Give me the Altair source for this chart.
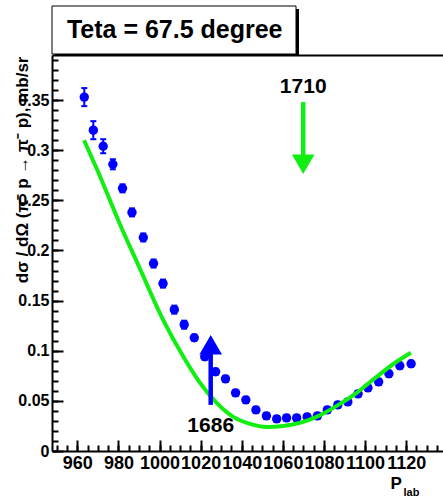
import altair as alt
import pandas as pd

# ---------------- data ----------------
p_lab = [963.4, 967.8, 972.6, 977.3, 982.0, 986.6, 992.1, 997.1, 1001.7, 1007.2,
         1012.0, 1016.9, 1022.0, 1027.3, 1032.1, 1037.0, 1042.0, 1046.9, 1052.0, 1057.0,
         1061.8, 1066.7, 1071.8, 1076.8, 1081.6, 1086.7, 1091.6, 1096.6, 1101.4, 1106.6,
         1111.6, 1116.9, 1122.4]
dsig = [0.353, 0.320, 0.304, 0.286, 0.262, 0.238, 0.213, 0.187, 0.167, 0.141,
        0.126, 0.113, 0.094, 0.079, 0.072, 0.058, 0.051, 0.041, 0.035, 0.032,
        0.033, 0.033, 0.034, 0.035, 0.041, 0.046, 0.049, 0.057, 0.063, 0.069,
        0.077, 0.085, 0.087]
dsig_err = [0.009, 0.009, 0.007, 0.005, 0.004, 0.004, 0.004, 0.004, 0.004, 0.004,
            0.004, 0.003, 0.003, 0.003, 0.003, 0.003, 0.003, 0.003, 0.003, 0.003,
            0.003, 0.003, 0.003, 0.003, 0.003, 0.003, 0.003, 0.003, 0.003, 0.003,
            0.003, 0.003, 0.003]

fit_p = [963.3, 970.0, 980.8, 990.0, 1001.7, 1011.6, 1019.7, 1027.8, 1035.9, 1044.0,
         1052.1, 1060.2, 1068.3, 1076.4, 1086.2, 1095.9, 1105.6, 1115.3, 1122.3]
fit_ds = [0.310, 0.279, 0.226, 0.184, 0.131, 0.094, 0.068, 0.048, 0.034, 0.027,
          0.024, 0.025, 0.028, 0.034, 0.045, 0.058, 0.074, 0.089, 0.098]

arrow_label = ["1710", "1686"]
arrow_p = [1069.9, 1024.9]
arrow_from = [0.348, 0.046]
arrow_to = [0.290, 0.103]
arrow_head = [0.286, 0.106]
arrow_text_y = [0.357, 0.019]

x_major = [960, 980, 1000, 1020, 1040, 1060, 1080, 1100, 1120]
x_minor = list(range(950, 1140, 5))
y_major = [0, 0.05, 0.1, 0.15, 0.2, 0.25, 0.3, 0.35]
y_minor = [round(i * 0.01, 2) for i in range(0, 40)]

title_text = "Teta = 67.5 degree"
y_title = "dσ / dΩ (π⁻ p → π⁻ p), mb/sr"
x_title = "P"
x_title_sub = "lab"

# ---------------- frames ----------------
pts = pd.DataFrame({"p": p_lab, "ds": dsig,
                    "lo": [a - b for a, b in zip(dsig, dsig_err)],
                    "hi": [a + b for a, b in zip(dsig, dsig_err)]})
fit = pd.DataFrame({"p": fit_p, "ds": fit_ds})
arr = pd.DataFrame({"label": arrow_label, "p": arrow_p, "y0": arrow_from,
                    "y1": arrow_to, "yh": arrow_head, "yt": arrow_text_y})
ttl = pd.DataFrame({"t": [title_text]})

FONT = "Liberation Sans"
W, H = 391, 396
xs = alt.Scale(domain=[947.7, 1137.9], nice=False, zero=False)
ys = alt.Scale(domain=[0, 0.395], nice=False, zero=False)
acol = alt.Scale(domain=arrow_label, range=["#11ee11", "#0000ff"])
ashape = alt.Scale(domain=arrow_label, range=["triangle-down", "triangle-up"])

ax_x_labels = alt.Axis(orient="bottom", values=x_major, format="d", ticks=False, tickSize=0,
                       domain=True, domainColor="black", domainWidth=2, grid=False,
                       labelFont=FONT, labelFontSize=18, labelFontWeight="bold", labelColor="black",
                       labelPadding=3, labelOverlap=False, labelFlush=False, labelBound=False,
                       title=x_title, titleX=338, titleY=37, titleAlign="left",
                       titleBaseline="alphabetic", titleFont=FONT, titleFontSize=17,
                       titleFontWeight="bold", titleColor="black")
ax_y_labels = alt.Axis(orient="left", values=y_major, format="~g", ticks=False, tickSize=0,
                       domain=True, domainColor="black", domainWidth=2, grid=False,
                       labelFont=FONT, labelFontSize=16, labelFontWeight="bold", labelColor="black",
                       labelPadding=3, labelOverlap=False, labelFlush=False, labelBound=False,
                       title=y_title, titleAngle=270, titleX=-25, titleY=1, titleAlign="right",
                       titleBaseline="alphabetic", titleFont=FONT, titleFontSize=17,
                       titleFontWeight="bold", titleColor="black")
ax_x_major = alt.Axis(orient="top", offset=-H, values=x_major, labels=False, ticks=True,
                      tickSize=11, tickWidth=2, tickColor="black", domain=False, grid=False,
                      title=x_title_sub, titleX=351, titleY=44, titleAlign="left",
                      titleBaseline="alphabetic", titleFont=FONT, titleFontSize=11,
                      titleFontWeight="bold", titleColor="black")
ax_y_major = alt.Axis(orient="right", offset=-W, values=y_major, labels=False, ticks=True,
                      tickSize=11, tickWidth=2, tickColor="black", domain=False, grid=False,
                      title="")
ax_x_minor = alt.Axis(orient="top", offset=-H, values=x_minor, labels=False, ticks=True,
                      tickSize=6, tickWidth=2, tickColor="black", domain=False, grid=False,
                      title="")
ax_y_minor = alt.Axis(orient="right", offset=-W, values=y_minor, labels=False, ticks=True,
                      tickSize=6, tickWidth=2, tickColor="black", domain=False, grid=False,
                      title="")
ax_x_top = alt.Axis(orient="top", values=x_major, labels=False, ticks=False, tickSize=0,
                    domain=True, domainColor="black", domainWidth=2, grid=False, title="")

# ---------------- layers ----------------
err_rule = alt.Chart(pts).mark_rule(color="#0000ff", strokeWidth=2).encode(
    x=alt.X("p:Q", scale=xs, axis=None),
    y=alt.Y("lo:Q", scale=ys, axis=None),
    y2="hi:Q")
cap_lo = alt.Chart(pts).mark_tick(color="#0000ff", orient="horizontal", size=6, thickness=2, opacity=1).encode(
    x=alt.X("p:Q", scale=xs, axis=None),
    y=alt.Y("lo:Q", scale=ys, axis=None))
cap_hi = alt.Chart(pts).mark_tick(color="#0000ff", orient="horizontal", size=6, thickness=2, opacity=1).encode(
    x=alt.X("p:Q", scale=xs, axis=None),
    y=alt.Y("hi:Q", scale=ys, axis=None))
points = alt.Chart(pts).mark_point(filled=True, shape="circle", size=88, color="#0000ff", opacity=1).encode(
    x=alt.X("p:Q", scale=xs, axis=ax_x_labels),
    y=alt.Y("ds:Q", scale=ys, axis=ax_y_labels))
curve = alt.Chart(fit).mark_line(color="#11ee11", strokeWidth=4, interpolate="monotone").encode(
    x=alt.X("p:Q", scale=xs, axis=ax_x_major),
    y=alt.Y("ds:Q", scale=ys, axis=ax_y_major))
shafts = alt.Chart(arr).mark_rule(strokeWidth=4.5).encode(
    x=alt.X("p:Q", scale=xs, axis=ax_x_minor),
    y=alt.Y("y0:Q", scale=ys, axis=ax_y_minor),
    y2="y1:Q",
    color=alt.Color("label:N", scale=acol, legend=None))
heads = alt.Chart(arr).mark_point(filled=True, size=510, opacity=1).encode(
    x=alt.X("p:Q", scale=xs, axis=ax_x_top),
    y=alt.Y("yh:Q", scale=ys, axis=None),
    color=alt.Color("label:N", scale=acol, legend=None),
    shape=alt.Shape("label:N", scale=ashape, legend=None))
labels = alt.Chart(arr).mark_text(font=FONT, fontSize=21, fontWeight="bold", color="black",
                                  align="center", baseline="alphabetic").encode(
    x=alt.X("p:Q", scale=xs, axis=None),
    y=alt.Y("yt:Q", scale=ys, axis=None),
    text="label:N")

box_shadow = alt.Chart(ttl).mark_rect(color="black").encode(
    x=alt.value(3), x2=alt.value(247), y=alt.value(-46), y2=alt.value(0))
box = alt.Chart(ttl).mark_rect(fill="white", stroke="black", strokeWidth=1).encode(
    x=alt.value(0), x2=alt.value(244), y=alt.value(-49), y2=alt.value(-1))
box_text = alt.Chart(ttl).mark_text(font=FONT, fontSize=25, fontWeight="bold", color="black",
                                    align="center", baseline="alphabetic").encode(
    x=alt.value(122.7), y=alt.value(-17.5), text="t:N")

chart = alt.layer(
    err_rule, cap_lo, cap_hi, points, curve, shafts, heads, labels,
    box_shadow, box, box_text
).resolve_axis(x="independent", y="independent").properties(
    width=W, height=H,
    autosize=alt.AutoSizeParams(type="none"),
    padding={"left": 52, "top": 55, "right": 0, "bottom": 46},
    background="white"
).configure_view(strokeOpacity=0)

chart.save("out.html", embed_options={"renderer": "svg", "actions": False})
